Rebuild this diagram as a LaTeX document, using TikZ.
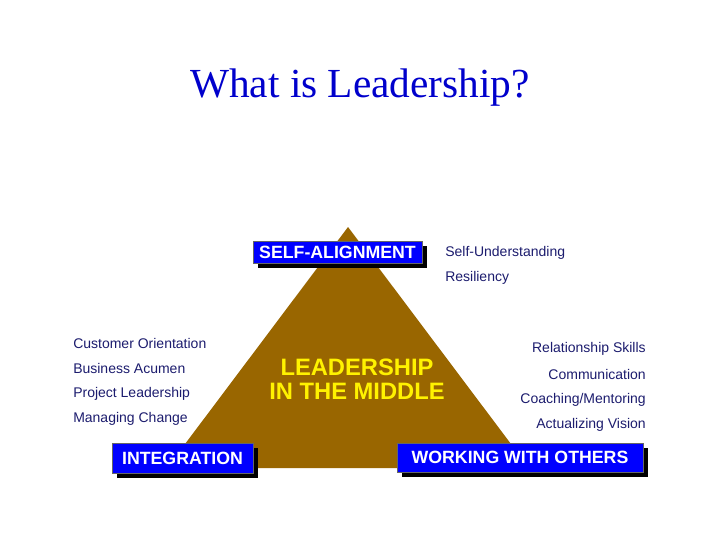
\documentclass[tikz,border=0pt]{standalone}
\usepackage{fontspec}
\setmainfont{Liberation Sans}
\newfontfamily\titlefont{Liberation Serif}
\usetikzlibrary{shadows}
\definecolor{navytext}{HTML}{1C1C6E}
\definecolor{titleblue}{HTML}{0000CC}
\definecolor{brownfill}{HTML}{996600}
\definecolor{boxblue}{HTML}{0000FF}
\definecolor{leadyellow}{HTML}{FFF200}
\tikzset{
  x=0.75pt, y=-0.75pt,
  listtext/.style={font=\fontsize{10.5}{12}\selectfont, text=navytext, inner sep=0pt},
  midtext/.style={font=\fontsize{17.8}{20}\bfseries\selectfont, text=leadyellow, inner sep=0pt},
  bluebox/.style={draw=black!60, line width=0.6pt, fill=boxblue, text=white,
    font=\fontsize{13.3}{15}\bfseries\selectfont, inner sep=0pt,
    drop shadow={shadow xshift=4pt, shadow yshift=-4pt, fill=black, opacity=1}},
}
\begin{document}
\begin{tikzpicture}
\useasboundingbox (0,0) rectangle (720,540);
\fill[white] (0,0) rectangle (720,540);
% title
\node[font=\titlefont\fontsize{31}{36}\selectfont, text=titleblue, inner sep=0pt] (title) at (360,88) {What is Leadership?};
% triangle
\fill[brownfill] (348,227) -- (529,468) -- (167,468) -- cycle;
\node[midtext] (mid1) at (357,367) {LEADERSHIP};
\node[midtext] (mid2) at (357,391) {IN THE MIDDLE};
% boxes
\node[bluebox, minimum width=126.75pt, minimum height=16.5pt] (sa) at (337.5,252) {SELF-ALIGNMENT};
\node[bluebox, minimum width=105.75pt, minimum height=22.5pt] (int) at (182.5,458) {INTEGRATION};
\node[bluebox, minimum width=184.5pt, minimum height=21.75pt] (wwo) at (520,457.5) {WORKING WITH OTHERS};
% top list
\node[listtext, anchor=west] (su) at (445,253) {Self-Understanding};
\node[listtext, anchor=west] (res) at (445,278) {Resiliency};
% left list
\node[listtext, anchor=west] (co) at (73,343) {Customer Orientation};
\node[listtext, anchor=west] (ba) at (73,368) {Business Acumen};
\node[listtext, anchor=west] (pl) at (73,394) {Project Leadership};
\node[listtext, anchor=west] (mc) at (73,419) {Managing Change};
% right list
\node[listtext, anchor=east] (rs) at (646,349) {Relationship Skills};
\node[listtext, anchor=east] (com) at (646,374) {Communication};
\node[listtext, anchor=east] (cm) at (646,400) {Coaching/Mentoring};
\node[listtext, anchor=east] (av) at (646,425) {Actualizing Vision};
\end{tikzpicture}
\end{document}
